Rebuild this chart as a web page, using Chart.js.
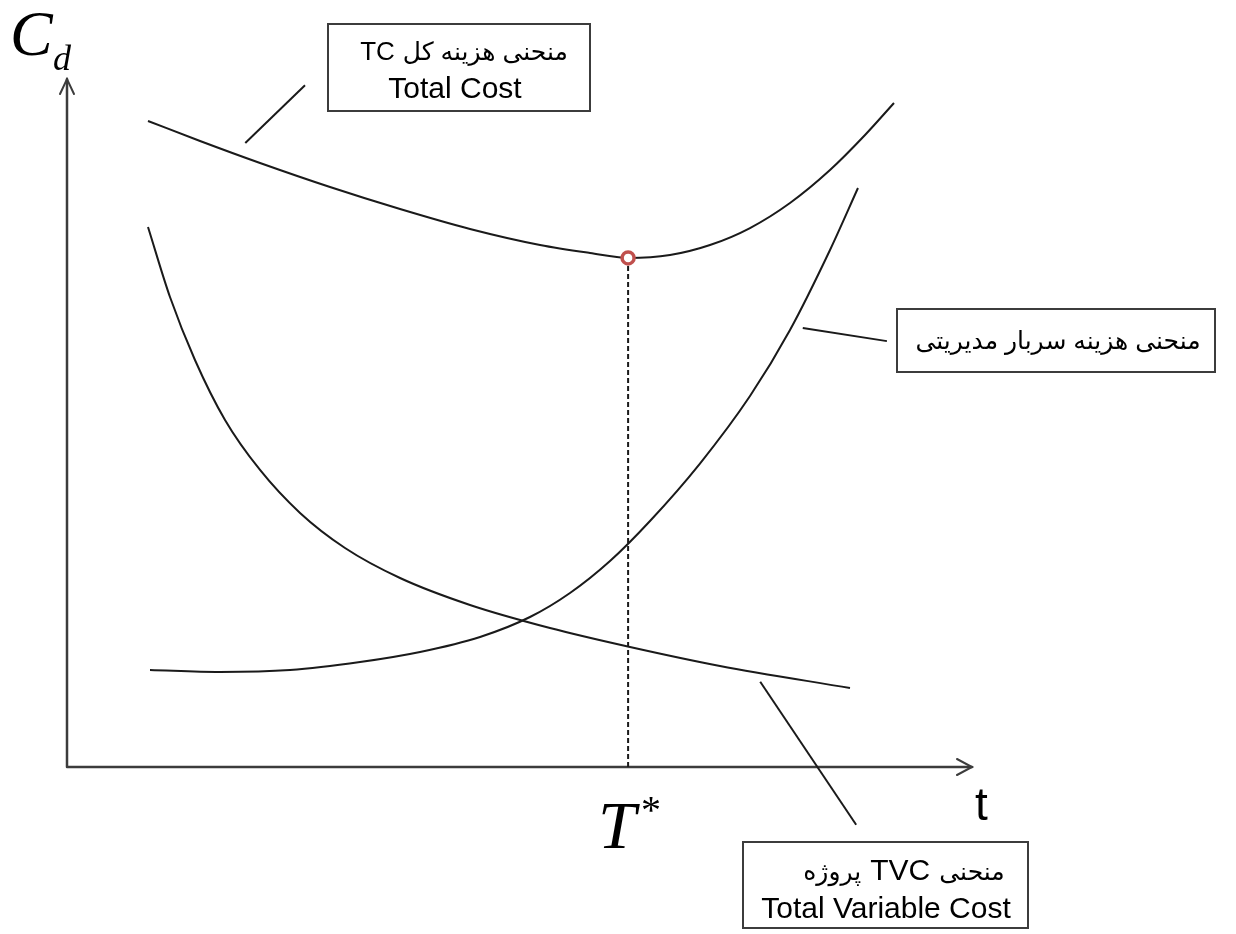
<!DOCTYPE html>
<html>
<head>
<meta charset="utf-8">
<title>Cd</title>
<script src="https://cdn.jsdelivr.net/npm/chart.js@4.4.1/dist/chart.umd.min.js"></script>
<style>
  html, body { margin: 0; padding: 0; background: #fff; }
  canvas { display: block; }
</style>
</head>
<body>
<canvas id="costChart" width="1236" height="934"></canvas>
<script>
// total cost curve (TC)
const tcX = [8.95, 14.7, 21.33, 29.06, 36.8, 44.53, 52.27, 57.79, 62.0, 66.63, 71.05, 75.47, 79.89, 84.31, 88.18, 91.38];
const tcY = [93.9, 90.99, 87.79, 84.3, 81.1, 78.2, 75.87, 74.71, 74.0, 74.42, 75.87, 78.34, 81.98, 86.77, 91.86, 96.51];

// total variable cost of the project (TVC)
const tvcX = [8.95, 11.38, 14.14, 17.46, 21.33, 25.75, 30.72, 36.8, 44.53, 53.37, 62.21, 72.15, 86.52];
const tvcY = [78.49, 68.31, 59.16, 50.44, 43.17, 36.92, 31.83, 27.47, 23.55, 20.2, 17.44, 14.68, 11.48];

// management overhead cost
const ohX = [9.17, 16.91, 24.64, 32.38, 39.01, 45.64, 51.16, 55.58, 60.0, 64.42, 69.94, 75.47, 79.89, 84.31, 87.4];
const ohY = [14.1, 13.81, 14.1, 15.26, 16.72, 18.9, 21.8, 25.29, 29.94, 35.76, 44.11, 53.92, 63.52, 75.15, 84.16];

// optimum duration T* and the minimum of TC
const tStar = 62.0;
const tcMin = 74.0;

// leader lines from the boxes to the curves
const tcLeader = [[19.7, 90.7], [26.3, 99.1]];
const ohLeader = [[81.3, 63.8], [90.6, 61.9]];
const tvcLeader = [[76.6, 12.4], [87.2, -8.4]];

const toPoints = (xs, ys) => xs.map((x, i) => ({ x: x, y: ys[i] }));
const pairPoints = (pairs) => pairs.map((p) => ({ x: p[0], y: p[1] }));

const INK = "#1a1a1a";
const FRAME = "#3c3c3c";
const SANS = "'Liberation Sans', Arial, 'DejaVu Sans', sans-serif";
const SERIF = "'Liberation Serif', 'Times New Roman', serif";

const curve = (points) => ({
  data: points,
  borderColor: INK,
  borderWidth: 2,
  pointRadius: 0,
  cubicInterpolationMode: "monotone",
  fill: false,
});

const leader = (points) => ({
  data: points,
  borderColor: INK,
  borderWidth: 2,
  pointRadius: 0,
  tension: 0,
  clip: false,
});

function drawBox(ctx, x, y, w, h) {
  ctx.save();
  ctx.strokeStyle = FRAME;
  ctx.lineWidth = 2;
  ctx.strokeRect(x, y, w, h);
  ctx.restore();
}

function drawLine(ctx, text, x, y, size, rtl) {
  ctx.save();
  ctx.font = size + "px " + SANS;
  ctx.fillStyle = "#000";
  ctx.textAlign = "center";
  ctx.textBaseline = "alphabetic";
  ctx.direction = rtl ? "rtl" : "ltr";
  ctx.fillText(text, x, y);
  ctx.restore();
}

// one right-to-left line made of runs with their own sizes; runs are given in reading order
function drawRuns(ctx, runs, cx, y, gap) {
  ctx.save();
  ctx.fillStyle = "#000";
  ctx.textBaseline = "alphabetic";
  ctx.textAlign = "left";
  const widths = runs.map((r) => {
    ctx.font = r.size + "px " + SANS;
    return ctx.measureText(r.text).width;
  });
  const total = widths.reduce((a, b) => a + b, 0) + gap * (runs.length - 1);
  let right = cx + total / 2;
  runs.forEach((r, i) => {
    ctx.font = r.size + "px " + SANS;
    ctx.fillText(r.text, right - widths[i], y);
    right -= widths[i] + gap;
  });
  ctx.restore();
}

// axes with open arrow heads, plus the C_d / T* / t labels and the boxes
const sketchPlugin = {
  id: "sketch",
  beforeDatasetsDraw(chart) {
    const { ctx, scales } = chart;
    const x0 = scales.x.getPixelForValue(0);
    const y0 = scales.y.getPixelForValue(0);
    const xEnd = scales.x.getPixelForValue(100);
    const yEnd = scales.y.getPixelForValue(100);

    ctx.save();
    ctx.strokeStyle = FRAME;
    ctx.lineWidth = 2.5;
    ctx.lineCap = "round";
    ctx.beginPath();
    ctx.moveTo(x0, y0);
    ctx.lineTo(x0, yEnd);
    ctx.moveTo(x0, y0);
    ctx.lineTo(xEnd, y0);
    ctx.stroke();

    ctx.lineWidth = 2;
    ctx.beginPath();
    ctx.moveTo(x0 - 7, yEnd + 15);
    ctx.lineTo(x0, yEnd);
    ctx.lineTo(x0 + 7, yEnd + 15);
    ctx.moveTo(xEnd - 15, y0 - 8);
    ctx.lineTo(xEnd, y0);
    ctx.lineTo(xEnd - 15, y0 + 8);
    ctx.stroke();
    ctx.restore();
  },
  afterDraw(chart) {
    const { ctx, scales } = chart;
    const xT = scales.x.getPixelForValue(tStar);
    const yAxisX = scales.x.getPixelForValue(0);
    const xEnd = scales.x.getPixelForValue(100);
    const y0 = scales.y.getPixelForValue(0);

    ctx.save();
    ctx.fillStyle = "#000";
    ctx.textBaseline = "alphabetic";

    // C_d
    ctx.font = "italic 64px " + SERIF;
    ctx.fillText("C", yAxisX - 57, 55);
    ctx.font = "italic 36px " + SERIF;
    ctx.fillText("d", yAxisX - 14, 70);

    // T*
    ctx.font = "italic 68px " + SERIF;
    ctx.fillText("T", xT - 30, y0 + 81);
    ctx.font = "40px " + SERIF;
    ctx.fillText("*", xT + 13, y0 + 56);

    // t
    ctx.font = "46px " + SANS;
    ctx.fillText("t", xEnd + 3, y0 + 53);
    ctx.restore();

    drawBox(ctx, 328, 24, 262, 87);
    drawRuns(ctx, [
      { text: "منحنی هزینه کل", size: 25 },
      { text: "TC", size: 26 },
    ], 464, 60, 8);
    drawLine(ctx, "Total Cost", 455, 98, 30, false);

    drawBox(ctx, 897, 309, 318, 63);
    drawLine(ctx, "منحنی هزینه سربار مدیریتی", 1058, 349, 25, true);

    drawBox(ctx, 743, 842, 285, 86);
    drawRuns(ctx, [
      { text: "منحنی", size: 25 },
      { text: "TVC", size: 30 },
      { text: "پروژه", size: 25 },
    ], 904, 880, 9);
    drawLine(ctx, "Total Variable Cost", 886, 918, 30, false);
  },
};

const ctx = document.getElementById("costChart").getContext("2d");

// the first dataset is drawn on top, so the marker leads and the dashed drop line trails
new Chart(ctx, {
  type: "line",
  data: {
    datasets: [
      {
        type: "scatter",
        data: [{ x: tStar, y: tcMin }],
        pointRadius: 6,
        borderWidth: 3.5,
        borderColor: "#c0504d",
        backgroundColor: "#ffffff",
      },
      curve(toPoints(tcX, tcY)),
      curve(toPoints(tvcX, tvcY)),
      curve(toPoints(ohX, ohY)),
      leader(pairPoints(tcLeader)),
      leader(pairPoints(ohLeader)),
      leader(pairPoints(tvcLeader)),
      {
        data: [{ x: tStar, y: tcMin }, { x: tStar, y: 0 }],
        borderColor: INK,
        borderWidth: 2,
        borderDash: [5, 3],
        pointRadius: 0,
      },
    ],
  },
  options: {
    responsive: false,
    animation: false,
    layout: {
      padding: { left: 67, right: 264, top: 79, bottom: 167 },
    },
    scales: {
      x: { type: "linear", min: 0, max: 100, display: false },
      y: { type: "linear", min: 0, max: 100, display: false },
    },
    plugins: {
      legend: { display: false },
      tooltip: { enabled: false },
    },
  },
  plugins: [sketchPlugin],
});
</script>
</body>
</html>
